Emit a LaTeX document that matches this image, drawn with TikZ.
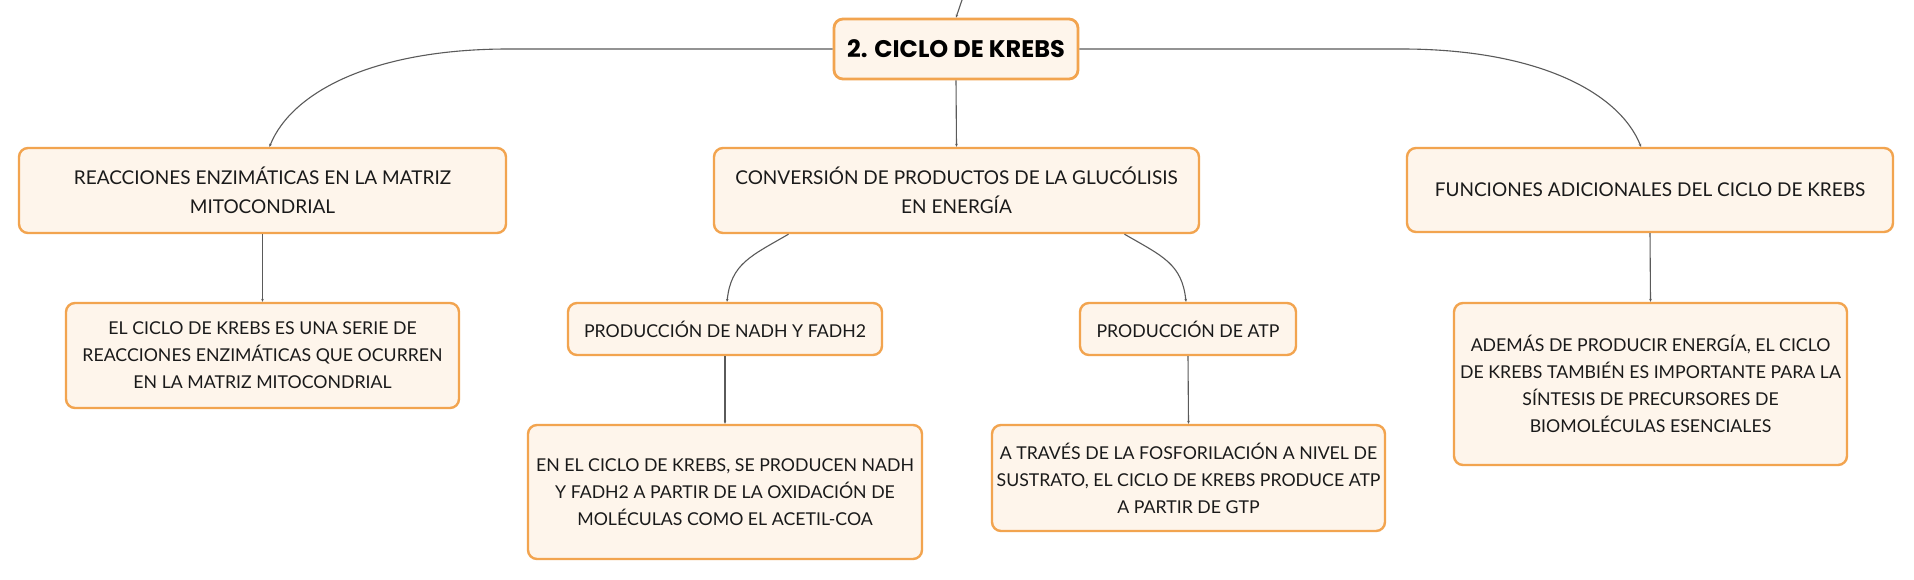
\documentclass[tikz,border=0pt]{standalone}
\usepackage{fontspec}
\setmainfont{Lato}
\newfontfamily\rootfont{Poppins}
\usetikzlibrary{arrows.meta}
\definecolor{boxfill}{HTML}{FEF5EB}
\definecolor{boxline}{HTML}{F2A44F}
\definecolor{linkcol}{HTML}{5A5A5A}
\definecolor{txt}{HTML}{1A1A1A}
\tikzset{
  box/.style={draw=boxline, fill=boxfill, line width=2.4pt, rounded corners=9pt,
    align=center, inner sep=0pt, text=txt},
  lvlone/.style={box, font=\fontsize{19}{29}\selectfont},
  lvltwo/.style={box, font=\fontsize{17.7}{27}\selectfont},
  rootbox/.style={box, line width=2.8pt, font=\rootfont\bfseries\fontsize{24}{28}\selectfont, text=black},
  link/.style={draw=linkcol, line width=1.1pt, -{Stealth[length=3pt,width=2.6pt]}},
}
\begin{document}
\begin{tikzpicture}[x=1pt,y=-1pt]
\useasboundingbox (0,0) rectangle (1914,580);
\fill[white] (0,0) rectangle (1914,580);

\node[rootbox, minimum width=244pt, minimum height=60pt] (root) at (956,49) {2. CICLO DE KREBS};

\node[lvlone, minimum width=487pt, minimum height=85pt] (reac) at (262.5,190.5)
  {REACCIONES ENZIMÁTICAS EN LA MATRIZ\\MITOCONDRIAL};
\node[lvlone, minimum width=485pt, minimum height=85pt] (conv) at (956.5,190.5)
  {CONVERSIÓN DE PRODUCTOS DE LA GLUCÓLISIS\\EN ENERGÍA};
\node[lvlone, minimum width=486pt, minimum height=84pt] (func) at (1650,190)
  {FUNCIONES ADICIONALES DEL CICLO DE KREBS};

\node[lvltwo, minimum width=393pt, minimum height=105pt] (reacc) at (262.5,355.5)
  {EL CICLO DE KREBS ES UNA SERIE DE\\REACCIONES ENZIMÁTICAS QUE OCURREN\\EN LA MATRIZ MITOCONDRIAL};
\node[lvltwo, minimum width=314pt, minimum height=52pt] (nadh) at (725,329)
  {PRODUCCIÓN DE NADH Y FADH2};
\node[lvltwo, minimum width=394pt, minimum height=134pt] (nadhc) at (725,492)
  {EN EL CICLO DE KREBS, SE PRODUCEN NADH\\Y FADH2 A PARTIR DE LA OXIDACIÓN DE\\MOLÉCULAS COMO EL ACETIL-COA};
\node[lvltwo, minimum width=216pt, minimum height=52pt] (atp) at (1188,329)
  {PRODUCCIÓN DE ATP};
\node[lvltwo, minimum width=393pt, minimum height=106pt] (atpc) at (1188.5,478)
  {A TRAVÉS DE LA FOSFORILACIÓN A NIVEL DE\\SUSTRATO, EL CICLO DE KREBS PRODUCE ATP\\A PARTIR DE GTP};
\node[lvltwo, minimum width=393pt, minimum height=162pt] (adem) at (1650.5,384)
  {ADEMÁS DE PRODUCIR ENERGÍA, EL CICLO\\DE KREBS TAMBIÉN ES IMPORTANTE PARA LA\\SÍNTESIS DE PRECURSORES DE\\BIOMOLÉCULAS ESENCIALES};

\coordinate (top) at (962,0);
\draw[link] (top) -- (root.north);

\draw[link] (root.west) -- ++(-324,0) .. controls +(-135,0) and +(22,-55) .. ([xshift=7pt]reac.north);
\draw[link] (root.east) -- ++(322,0) .. controls +(135,0) and +(-22,-55) .. ([xshift=-9pt]func.north);
\draw[link] (root.south) -- (conv.north);

\draw[link] (reac.south) -- (reacc.north);
\draw[link] ([xshift=-168pt]conv.south) .. controls +(-38,22) and +(4,-38) .. ([xshift=2pt]nadh.north);
\draw[link] ([xshift=168pt]conv.south) .. controls +(38,22) and +(-4,-38) .. ([xshift=-2pt]atp.north);
\draw[link] (nadh.south) -- (nadhc.north);
\draw[link] (atp.south) -- (atpc.north);
\draw[link] (func.south) -- (adem.north);
\end{tikzpicture}
\end{document}
